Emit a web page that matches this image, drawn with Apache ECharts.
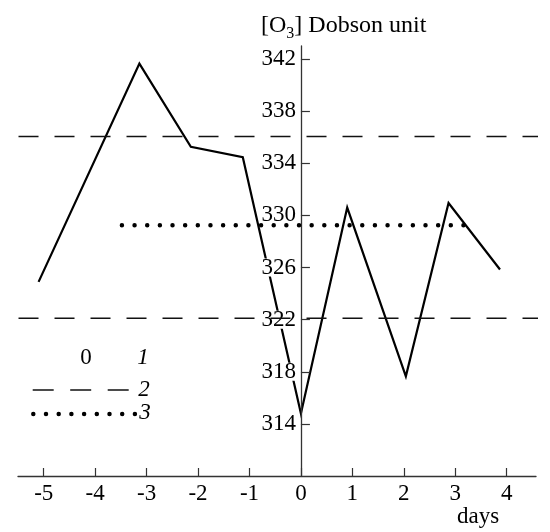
<!DOCTYPE html>
<html>
<head>
<meta charset="utf-8">
<script src="https://cdn.jsdelivr.net/npm/echarts@6/dist/echarts.min.js"></script>
<style>
  html, body { margin: 0; padding: 0; background: #fff; }
  #chart { width: 550px; height: 532px; }
</style>
</head>
<body>
<div id="chart"></div>
<script>
// daily total ozone around the event (day 0)
const obsDays = [-5.10, -3.14, -2.14, -1.13, 0.0, 0.90, 2.04, 2.87, 3.87];
const obsO3 = [324.9, 341.65, 335.27, 334.46, 314.8, 330.6, 317.65, 330.95, 325.85];

// norm band (2) and mean of the period (3)
const normDays = [-5.49, 4.67];
const upperNorm = 336.05;
const lowerNorm = 322.1;
const meanDays = [-3.48, 3.16];
const meanO3 = 329.25;

const xTicks = [-5, -4, -3, -2, -1, 0, 1, 2, 3, 4];
const yTicks = [314, 318, 322, 326, 330, 334, 338, 342];

const FONT = 'Liberation Serif';
const X_MIN = -5.5, X_MAX = 4.57;
const GRID = { left: 18, right: 14, top: 46, bottom: 56 };

const chart = echarts.init(document.getElementById('chart'));

// the value axis sits on day 0, so shift it right from the grid edge
const plotW = 550 - GRID.left - GRID.right;
const zeroShift = (0 - X_MIN) / (X_MAX - X_MIN) * plotW;

const option = {
  backgroundColor: '#fff',
  animation: false,
  grid: Object.assign({ outerBoundsMode: 'none' }, GRID),
  xAxis: {
    type: 'value',
    min: X_MIN,
    max: X_MAX,
    splitLine: { show: false },
    axisLine: { show: true, onZero: false, lineStyle: { color: '#333', width: 1.3 } },
    axisTick: { show: true, inside: true, length: 8, customValues: xTicks, lineStyle: { color: '#333', width: 1.2 } },
    axisLabel: { customValues: xTicks, margin: 6, color: '#000', fontFamily: FONT, fontSize: 23 }
  },
  yAxis: {
    type: 'value',
    min: 310,
    max: 343,
    z: 3,
    offset: -zeroShift,
    splitLine: { show: false },
    axisLine: { show: true, onZero: false, lineStyle: { color: '#333', width: 1.3 } },
    axisTick: { show: true, inside: true, length: 9, customValues: yTicks, lineStyle: { color: '#333', width: 1.2 } },
    axisLabel: {
      customValues: yTicks, margin: 5, color: '#000', fontFamily: FONT, fontSize: 23,
      backgroundColor: '#fff', lineHeight: 18
    }
  },
  series: [
    {
      name: 'ozone',
      type: 'line',
      z: 2,
      symbol: 'none',
      lineStyle: { color: '#000', width: 2.2, join: 'miter' },
      data: obsDays.map((d, i) => [d, obsO3[i]])
    },
    {
      name: 'upper norm',
      type: 'line',
      z: 4,
      clip: false,
      symbol: 'none',
      lineStyle: { color: '#111', width: 1.5, type: [20, 16] },
      data: normDays.map(d => [d, upperNorm])
    },
    {
      name: 'lower norm',
      type: 'line',
      z: 4,
      clip: false,
      symbol: 'none',
      lineStyle: { color: '#111', width: 1.5, type: [20, 16] },
      data: normDays.map(d => [d, lowerNorm])
    },
    {
      name: 'mean',
      type: 'line',
      z: 4,
      symbol: 'none',
      lineStyle: { color: '#000', width: 4.5, type: [0, 12.65], cap: 'round' },
      data: meanDays.map(d => [d, meanO3])
    }
  ],
  graphic: [
    {
      type: 'text', x: 261, y: 26,
      style: {
        text: '{a|[O}{s|3}{a|] Dobson unit}',
        textVerticalAlign: 'middle', textAlign: 'left',
        rich: {
          a: { fontFamily: FONT, fontSize: 24, lineHeight: 32, fill: '#000', verticalAlign: 'middle' },
          s: { fontFamily: FONT, fontSize: 16, lineHeight: 32, fill: '#000', verticalAlign: 'bottom' }
        }
      }
    },
    {
      type: 'text', x: 478, y: 517,
      style: { text: 'days', font: '23px "Liberation Serif"', fill: '#000', textAlign: 'center', textVerticalAlign: 'middle' }
    },
    // legend
    {
      type: 'text', x: 86, y: 358,
      style: { text: '0', font: '23px "Liberation Serif"', fill: '#000', textAlign: 'center', textVerticalAlign: 'middle' }
    },
    {
      type: 'text', x: 143, y: 358,
      style: { text: '1', font: 'italic 23px "Liberation Serif"', fill: '#000', textAlign: 'center', textVerticalAlign: 'middle' }
    },
    {
      type: 'line', shape: { x1: 32.7, y1: 390, x2: 128.7, y2: 390 },
      style: { stroke: '#111', lineWidth: 1.5, lineDash: [21, 16.5] }
    },
    {
      type: 'text', x: 144, y: 390,
      style: { text: '2', font: 'italic 23px "Liberation Serif"', fill: '#000', textAlign: 'center', textVerticalAlign: 'middle' }
    },
    {
      type: 'line', shape: { x1: 33.3, y1: 414, x2: 135.2, y2: 414 },
      style: { stroke: '#000', lineWidth: 4.5, lineDash: [0, 12.7], lineCap: 'round' }
    },
    {
      type: 'text', x: 145, y: 413,
      style: { text: '3', font: 'italic 23px "Liberation Serif"', fill: '#000', textAlign: 'center', textVerticalAlign: 'middle' }
    }
  ]
};

chart.setOption(option);
</script>
</body>
</html>
